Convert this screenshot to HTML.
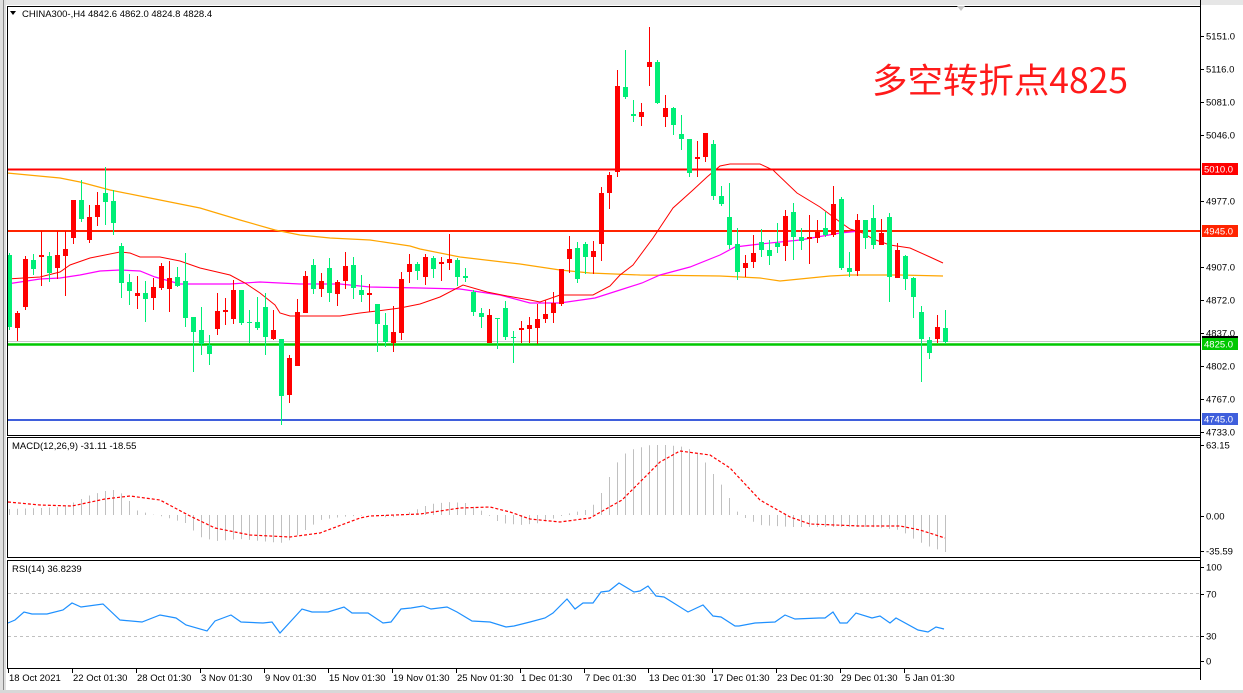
<!DOCTYPE html>
<html><head><meta charset="utf-8">
<style>
html,body{margin:0;padding:0;background:#fff;}
body{width:1243px;height:693px;overflow:hidden;position:relative;font-family:"Liberation Sans",sans-serif;}
svg{position:absolute;left:0;top:0;}
</style></head>
<body>
<svg id="s" width="1243" height="693" viewBox="0 0 1243 693" xmlns="http://www.w3.org/2000/svg" font-family="Liberation Sans, sans-serif">
<rect x="0" y="0" width="1243" height="693" fill="#fff"/>
<rect x="0" y="0" width="1243" height="5" fill="#e6e6e6"/>
<rect x="0" y="0" width="6" height="693" fill="#e0e0e0"/>
<line x1="3.5" y1="0" x2="3.5" y2="693" stroke="#888"/>
<rect x="0" y="690" width="1243" height="3" fill="#d8d8d8"/>
<g id="g"></g>
</svg>
<script>
var g=document.getElementById('g');var NS='http://www.w3.org/2000/svg';
function el(t,a,txt){var e=document.createElementNS(NS,t);for(var k in a)e.setAttribute(k,a[k]);if(txt!==undefined)e.textContent=txt;g.appendChild(e);return e;}
function interp(pts,x){if(x<=pts[0][0])return pts[0][1];for(var i=1;i<pts.length;i++){if(x<=pts[i][0]){var a=pts[i-1],b=pts[i];return a[1]+(b[1]-a[1])*(x-a[0])/(b[0]-a[0]);}}return pts[pts.length-1][1];}
function poly(pts,st,w,dash){var d=pts.map(function(p){return p[0]+','+p[1]}).join(' ');var a={points:d,fill:'none',stroke:st,'stroke-width':w};if(dash)a['stroke-dasharray']=dash;el('polyline',a);}
el('line',{x1:7,y1:341.5,x2:1200,y2:341.5,stroke:'#c8c8c8','stroke-width':1});
el('line',{x1:7,y1:169.5,x2:1200,y2:169.5,stroke:'#ff0000','stroke-width':2});
el('line',{x1:7,y1:231,x2:1200,y2:231,stroke:'#ff2400','stroke-width':2});
el('line',{x1:7,y1:344.5,x2:1200,y2:344.5,stroke:'#00c800','stroke-width':2.5});
el('line',{x1:7,y1:420,x2:1200,y2:420,stroke:'#3f5fdc','stroke-width':2});
poly([[7,173],[60,178],[80,182],[110,190],[150,198],[200,208],[240,220],[275,230],[300,235],[330,238],[370,240],[410,246],[420,249],[460,257],[520,264],[560,270],[590,273],[640,275],[720,276],[760,278],[780,281],[800,279],[830,276],[850,275],[900,275],[943,276]],'#ffa500',1.2);
poly([[7,284],[40,279],[60,278],[80,275],[100,271],[120,270],[140,271],[155,277],[180,284],[230,284],[260,282],[300,284],[340,284],[370,287],[420,288],[460,289],[500,295],[530,303],[560,303],[595,298],[620,290],[642,283],[660,275],[690,267],[720,255],[735,247],[760,244],[800,240],[840,233],[860,231]],'#ff00ff',1.2);
poly([[7,279],[40,277],[60,272],[70,265],[90,258],[100,256],[120,252],[130,253],[140,257],[160,257],[180,261],[200,268],[230,275],[245,283],[260,293],[275,305],[280,313],[290,316],[340,316],[360,313],[385,310],[400,308],[420,304],[440,297],[463,285],[487,292],[507,296],[530,300],[540,302],[560,295],[593,295],[610,286],[620,275],[633,265],[653,238],[673,208],[693,190],[707,177],[720,166],[730,164],[760,164],[773,170],[797,193],[820,207],[840,222],[850,229],[863,233],[873,239],[890,245],[910,248],[930,257],[943,263]],'#ff0000',1);
var C=[[1,0,255,327,253,330],[2,1,313,328,311,341],[3,1,259,307,256,310],[4,0,260,269,254,275],[5,1,255,257,231,286],[6,0,256,273,252,282],[7,1,255,268,231,279],[8,1,249,256,231,296],[9,1,200,238,200,244],[10,0,200,219,180,222],[11,1,217,240,205,243],[12,1,205,217,192,226],[13,0,193,202,167,225],[14,0,201,223,190,235],[15,0,246,283,243,298],[16,0,282,291,274,305],[17,1,293,296,276,309],[18,0,293,299,281,322],[19,1,287,298,278,310],[20,1,266,288,263,290],[21,1,278,289,261,312],[22,0,277,286,267,287],[23,0,281,318,253,327],[24,0,317,332,317,372],[25,0,330,344,307,355],[26,0,345,354,335,365],[27,1,311,329,293,335],[28,1,310,312,298,325],[29,1,290,319,280,324],[30,0,290,323,290,325],[31,0,322,323,310,343],[32,0,322,328,297,330],[33,0,307,337,293,355],[34,1,330,339,310,340],[35,0,339,396,339,425],[36,1,358,395,355,403],[37,1,312,366,299,366],[38,1,276,313,271,313],[39,0,265,289,259,294],[40,1,281,289,273,297],[41,0,268,293,258,302],[42,1,282,294,280,306],[43,1,266,281,252,289],[44,0,265,288,257,299],[45,0,290,295,275,302],[46,1,293,295,284,312],[47,0,304,324,304,352],[48,0,325,342,313,347],[49,1,332,343,306,352],[50,1,279,333,272,340],[51,1,264,272,254,283],[52,0,264,271,262,280],[53,1,257,277,254,285],[54,0,258,269,256,278],[55,1,262,264,257,281],[56,1,259,263,234,270],[57,0,260,277,258,286],[58,0,276,278,268,282],[59,0,292,312,290,316],[60,0,313,317,308,328],[61,1,315,343,309,343],[62,0,318,319,318,349],[63,0,308,337,301,340],[64,0,337,338,331,363],[65,1,328,330,321,343],[66,1,325,329,317,343],[67,1,319,328,304,344],[68,1,314,319,300,323],[69,1,303,313,292,323],[70,1,269,304,269,306],[71,1,249,259,236,273],[72,0,248,279,242,283],[73,0,244,257,242,274],[74,1,251,257,241,274],[75,1,193,244,187,261],[76,1,175,193,172,209],[77,1,86,172,70,177],[78,0,87,97,50,99],[79,0,114,116,100,122],[80,1,112,117,103,126],[81,1,62,67,27,86],[82,0,62,103,60,104],[83,1,108,117,95,127],[84,0,108,125,107,135],[85,0,134,139,115,150],[86,0,139,173,139,177],[87,1,157,159,141,177],[88,1,133,157,133,162],[89,0,144,196,140,200],[90,0,196,204,186,206],[91,0,217,245,183,249],[92,0,244,272,228,280],[93,1,263,268,255,277],[94,1,253,262,235,268],[95,0,242,250,229,257],[96,0,250,256,240,265],[97,0,243,247,223,253],[98,1,216,246,210,261],[99,0,212,237,203,260],[100,0,237,241,228,250],[101,1,237,239,215,264],[102,1,232,238,220,243],[103,0,228,235,212,237],[104,1,204,235,186,237],[105,0,199,268,197,270],[106,0,268,272,252,277],[107,1,220,271,214,276],[108,0,220,238,220,249],[109,0,218,245,205,249],[110,1,233,245,219,245],[111,0,217,277,213,302],[112,1,250,278,243,278],[113,0,256,279,255,290],[114,0,278,297,277,318],[115,0,312,339,306,382],[116,0,340,353,337,359],[117,1,327,339,315,343],[118,0,328,342,310,344]];
C.forEach(function(c){var x=1+8*c[0];var col=c[1]?'#ff0000':'#00ee76';
el('line',{x1:x+0.5,y1:c[4],x2:x+0.5,y2:c[5],stroke:col,'stroke-width':1});
var h=Math.max(1,c[3]-c[2]);el('rect',{x:x-2,y:c[2],width:5,height:h,fill:col});});
var H=[[9,6],[40,7],[60,8],[72,12],[90,20],[105,24],[113,25],[125,20],[135,5],[150,1],[165,-2],[185,-8],[200,-22],[215,-26],[240,-24],[260,-26],[280,-28],[290,-25],[305,-15],[320,-5],[340,-2],[370,0],[390,-3],[410,3],[430,11],[450,13],[465,12],[480,5],[500,-8],[520,-10],[540,-8],[555,-3],[570,2],[590,6],[600,20],[610,40],[620,58],[630,65],[650,70],[665,70],[685,68],[700,60],[710,45],[725,25],[735,5],[745,-3],[760,-10],[790,-12],[830,-12],[870,-12],[900,-15],[915,-25],[930,-32],[945,-37]];
for(var i=1;i<=118;i++){var x=1+8*i;var v=interp(H,x);el('line',{x1:x+0.5,y1:515,x2:x+0.5,y2:515-v,stroke:'#c0c0c0','stroke-width':1});}
poly([[8,502],[40,505],[72,506],[105,499],[130,496],[160,500],[190,516],[215,528],[250,535],[290,537],[320,533],[360,518],[370,516],[420,514],[460,508],[490,507],[510,512],[530,519],[560,522],[590,518],[622,500],[660,462],[680,451],[710,455],[730,468],[760,500],[790,517],[810,524],[860,526],[900,526],[920,530],[945,538]],'#ff0000',1.2,'3,2');
el('line',{x1:8,y1:593.5,x2:1200,y2:593.5,stroke:'#c0c0c0','stroke-dasharray':'3,3'});
el('line',{x1:8,y1:636.5,x2:1200,y2:636.5,stroke:'#c0c0c0','stroke-dasharray':'3,3'});
poly([[8,623],[15,620],[24,612],[32,614],[47,614],[63,610],[72,603],[81,607],[103,604],[120,620],[142,622],[160,615],[176,618],[186,625],[207,631],[215,621],[231,615],[241,622],[263,623],[272,622],[280,633],[302,609],[312,612],[328,612],[344,607],[352,613],[368,613],[383,623],[391,622],[401,609],[411,608],[423,606],[431,609],[447,607],[457,612],[472,621],[490,622],[506,627],[514,626],[530,622],[545,618],[553,613],[567,599],[575,609],[583,603],[593,603],[601,592],[609,591],[619,583],[634,592],[640,591],[648,586],[656,596],[664,597],[688,612],[703,605],[713,616],[721,617],[735,626],[739,626],[755,623],[775,622],[785,615],[795,619],[819,618],[825,618],[833,612],[840,623],[847,623],[856,613],[872,618],[880,616],[890,623],[896,618],[918,630],[928,632],[936,627],[944,629]],'#1e90ff',1.2);
[[7.5,6.5,1193,429],[7.5,437.5,1193,120],[7.5,560.5,1193,108]].forEach(function(r){el('rect',{x:r[0],y:r[1],width:r[2],height:r[3],fill:'none',stroke:'#000','stroke-width':1});});
el('line',{x1:1200.5,y1:0,x2:1200.5,y2:680,stroke:'#000'});
var P=[[36,'5151.0'],[69,'5116.0'],[102,'5081.0'],[135,'5046.0'],[201,'4977.0'],[267,'4907.0'],[300,'4872.0'],[333,'4837.0'],[366,'4802.0'],[399,'4767.0'],[432,'4733.0']];
P.forEach(function(p){el('line',{x1:1200,y1:p[0]+0.5,x2:1204,y2:p[0]+0.5,stroke:'#000'});el('text',{x:1206,y:p[0]+3.5,'font-size':'9.5',fill:'#000'},p[1]);});
var B=[[169,'5010.0','#ff0000'],[231,'4945.0','#ff2400'],[344,'4825.0','#00c800'],[419,'4745.0','#3f5fdc']];
el('rect',{x:1202,y:336,width:36,height:5,fill:'#000'});
B.forEach(function(b){el('rect',{x:1202,y:b[0]-6,width:36,height:12,fill:b[2]});el('text',{x:1204,y:b[0]+3.5,'font-size':'9.5',fill:'#fff'},b[1]);});
[[445,'63.15'],[516,'0.00'],[551,'-35.59']].forEach(function(p){el('line',{x1:1200,y1:p[0]+0.5,x2:1204,y2:p[0]+0.5,stroke:'#000'});el('text',{x:1206,y:p[0]+3.5,'font-size':'9.5'},p[1]);});
[[567,'100'],[594,'70'],[636,'30'],[661,'0']].forEach(function(p){el('line',{x1:1200,y1:p[0]+0.5,x2:1204,y2:p[0]+0.5,stroke:'#000'});el('text',{x:1206,y:p[0]+3.5,'font-size':'9.5'},p[1]);});
var T=['18 Oct 2021','22 Oct 01:30','28 Oct 01:30','3 Nov 01:30','9 Nov 01:30','15 Nov 01:30','19 Nov 01:30','25 Nov 01:30','1 Dec 01:30','7 Dec 01:30','13 Dec 01:30','17 Dec 01:30','23 Dec 01:30','29 Dec 01:30','5 Jan 01:30'];
T.forEach(function(t,k){var x=8+64*k;el('line',{x1:x+0.5,y1:668,x2:x+0.5,y2:673,stroke:'#000'});el('text',{x:x+1,y:681,'font-size':'9.5'},t);});
el('text',{x:22,y:17,'font-size':'9.5'},'CHINA300-,H4  4842.6 4862.0 4824.8 4828.4');
el('path',{d:'M10 11 L16 11 L13 15 Z',fill:'#000'});
el('text',{x:12,y:449,'font-size':'9.5'},'MACD(12,26,9) -31.11 -18.55');
el('text',{x:12,y:572,'font-size':'9.5'},'RSI(14) 36.8239');
el('text',{x:872,y:93,'font-size':'34.5',fill:'#ff1a1a','font-family':'Noto Sans CJK SC, WenQuanYi Zen Hei, sans-serif',textLength:'256',lengthAdjust:'spacingAndGlyphs'},'多空转折点4825');
el('path',{d:'M957 6 L965 6 L961 11 Z',fill:'#c8c8c8'});
</script>
</body></html>
